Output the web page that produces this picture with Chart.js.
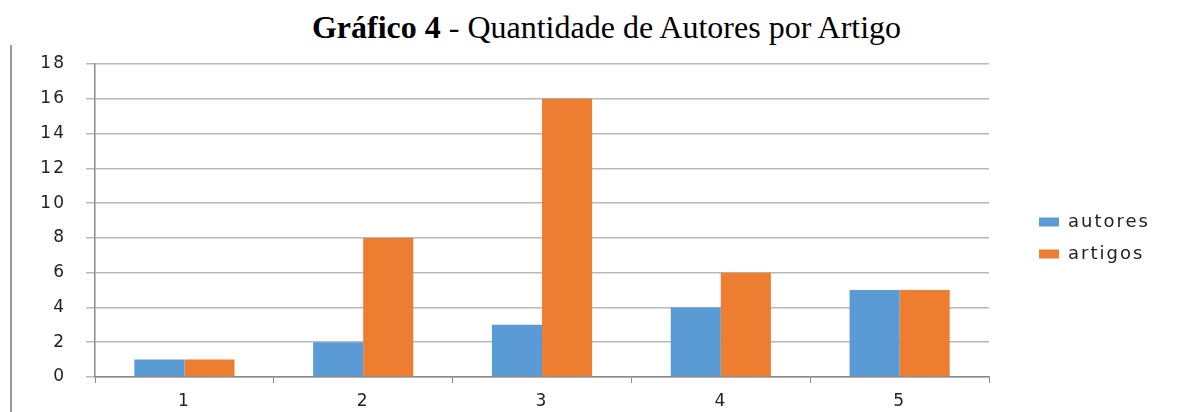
<!DOCTYPE html>
<html><head><meta charset="utf-8">
<script src="https://cdn.jsdelivr.net/npm/chart.js@4"></script>
<style>
html,body{margin:0;padding:0;background:#fff;}
#wrap{position:relative;width:1183px;height:412px;overflow:hidden;}
#title{position:absolute;left:0;width:1183px;top:9px;text-align:center;font-family:"Liberation Serif","Times New Roman",serif;font-size:32px;line-height:36px;color:#000;padding-left:30px;box-sizing:border-box;}
#bar{position:absolute;left:10px;top:45px;width:2px;height:367px;background:#9a9a9a;}
#cv{position:absolute;left:0;top:0;}
</style></head>
<body><div id="wrap">
<div id="title"><b>Gráfico 4</b> - Quantidade de Autores por Artigo</div>
<div id="bar"></div>
<canvas id="cv" width="1183" height="412"></canvas>
</div>
<script>
const categories = ['1','2','3','4','5'];
const autores = [1,2,3,4,5];
const artigos = [1,8,16,6,5];
const yTicks = [0,2,4,6,8,10,12,14,16,18];

const FAM = "'DejaVu Sans', Verdana, sans-serif";
const spacing = {id:'spacing', beforeUpdate(c){c.ctx.letterSpacing='2px';}, beforeDraw(c){c.ctx.letterSpacing='2px';}};

new Chart(document.getElementById('cv'), {
  type:'bar',
  data:{labels:categories, datasets:[
    {label:'autores', data:autores, backgroundColor:'#5B9BD5', categoryPercentage:0.56, barPercentage:1},
    {label:'artigos', data:artigos, backgroundColor:'#ED7D31', categoryPercentage:0.56, barPercentage:1}
  ]},
  options:{
    responsive:false, animation:false,
    layout:{padding:{left:20,top:64,right:23,bottom:0}},
    plugins:{
      legend:{position:'right', labels:{boxWidth:20, boxHeight:9, font:{family:FAM,size:18}, color:'#222', padding:14}},
      tooltip:{enabled:false}
    },
    scales:{
      x:{
        grid:{offset:true, drawOnChartArea:false, tickLength:6, color:'#8a8a8a'},
        border:{color:'#8a8a8a', width:1.5},
        ticks:{font:{family:FAM,size:17}, color:'#222', padding:8},
        afterFit(s){s.height=35;}
      },
      y:{
        min:0, max:18,
        afterBuildTicks(s){s.ticks=yTicks.map(v=>({value:v}));},
        grid:{color:'#b8b8b8', tickLength:9, lineWidth:1.5},
        border:{color:'#8a8a8a', width:1.5},
        ticks:{font:{family:FAM,size:17}, color:'#222', padding:20},
        afterFit(s){s.width=75;}
      },
      spacer:{
        position:'right', display:true,
        grid:{display:false, drawTicks:false}, border:{display:false},
        ticks:{display:false},
        afterFit(s){s.width=36;}
      }
    }
  },
  plugins:[spacing]
});
</script>
</body></html>
